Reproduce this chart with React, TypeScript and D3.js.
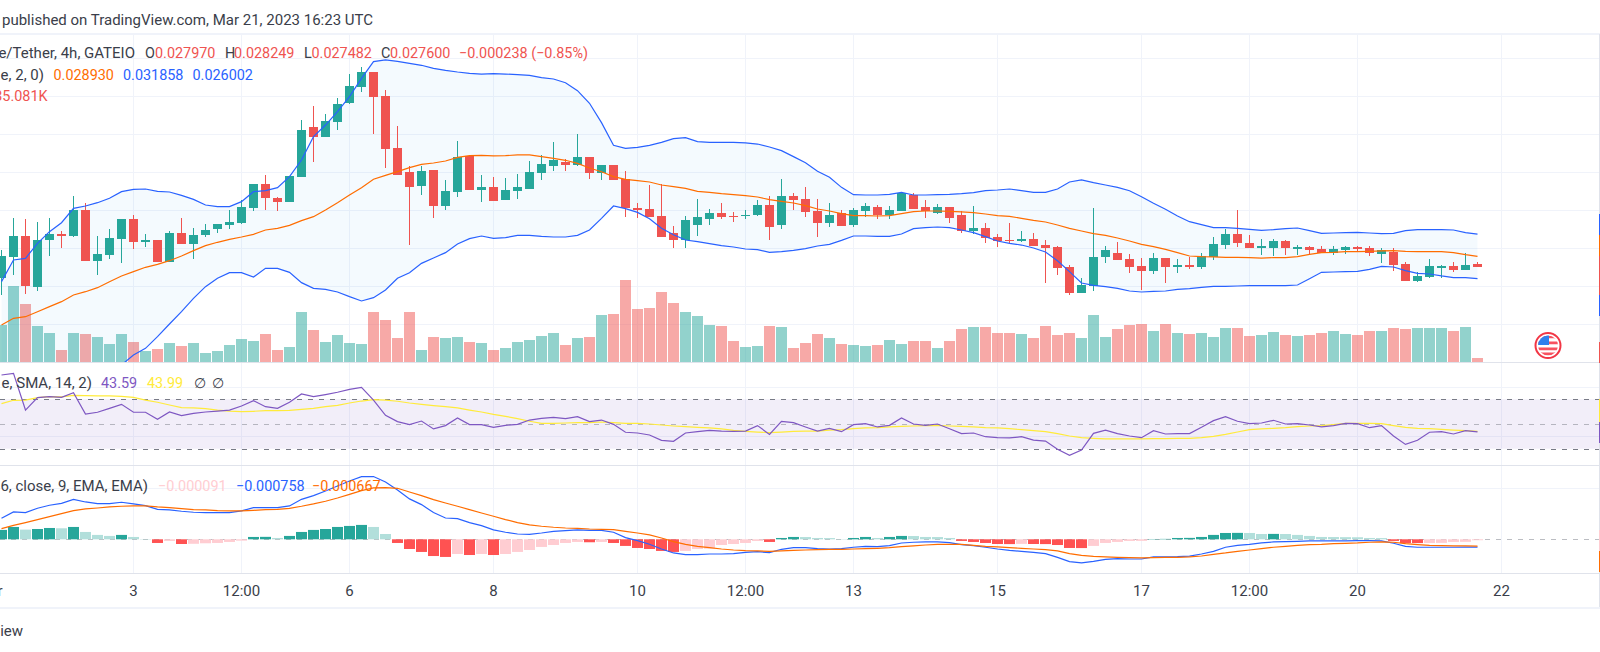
import { useEffect, useRef } from 'react';
import * as d3 from 'd3';

// prices are in units of 0.00001 USDT, one entry per 4h bar
const opens = [
  2609,2886,3162,2491,3109,3188,3162,3504,2833,2912,
  3122,3386,3083,3109,2820,3201,3057,3175,3254,3307,
  3333,3530,3846,3662,3609,3938,4596,4465,4662,4912,
  5122,5320,5004,4320,4004,3820,4030,3557,3741,4215,
  3767,3807,3636,3754,3780,3991,4083,4136,4096,4201,
  3991,4096,3916,3530,3517,3425,3201,3109,3307,3386,
  3465,3425,3425,3438,3570,3307,3688,3649,3491,3333,
  3465,3307,3491,3543,3438,3491,3701,3543,3465,3543,
  3438,3228,3267,3149,3109,3096,3122,3043,3017,2754,
  2412,2504,2886,2938,2859,2767,2701,2872,2754,2780,
  2754,2886,3043,3188,3070,3004,3004,3096,2991,3017,
  2991,2938,2978,3017,3004,2925,2951,2793,2570,2622,
  2741,2767,2715,2793,
];
const closes = [
  2899,3162,2504,3109,3188,3162,3504,2833,2925,3136,
  3386,3083,3109,2820,3201,3057,3175,3241,3320,3346,
  3543,3846,3662,3609,3951,4557,4465,4675,4899,5136,
  5320,4991,4307,3965,3807,4017,3557,3754,4201,3767,
  3807,3622,3767,3807,4004,4109,4162,4096,4201,3991,
  4096,3899,3530,3504,3412,3149,3109,3372,3412,3465,
  3412,3412,3438,3570,3280,3688,3636,3478,3333,3438,
  3293,3504,3557,3438,3504,3728,3517,3491,3543,3399,
  3228,3267,3136,3096,3096,3122,3030,3004,2741,2412,
  2517,2886,2978,2846,2754,2701,2872,2754,2780,2754,
  2899,3057,3188,3070,3004,3030,3096,3004,3017,2978,
  2938,2991,3017,2991,2938,2978,2780,2570,2636,2767,
  2767,2715,2780,2760,
];
const highs = [
  2978,3399,3386,3346,3399,3228,3688,3596,3162,3254,
  3386,3438,3188,3109,3228,3399,3267,3320,3320,3504,
  3636,3846,3965,3675,3951,4688,4872,4767,4978,5294,
  5386,5320,5083,4609,4083,4083,4030,3899,4412,4228,
  3965,3938,3925,3978,4149,4228,4399,4175,4504,4201,
  4096,4096,4017,3596,3833,3846,3293,3425,3649,3517,
  3596,3478,3504,3636,3688,3912,3728,3807,3649,3596,
  3504,3530,3596,3570,3557,3741,3728,3636,3583,3543,
  3491,3557,3333,3188,3333,3228,3201,3109,3030,2780,
  2609,3530,3030,3083,2925,2872,2938,2872,2859,2886,
  2938,3149,3254,3504,3175,3122,3122,3109,3043,3030,
  3030,3030,3030,3030,3030,3004,3004,2820,2688,2859,
  2780,2820,2938,2825,
];
const lows = [
  2386,2649,2399,2438,2899,3004,3149,2833,2649,2859,
  2807,2991,3017,2820,2820,3057,2859,3149,3201,3254,
  3320,3491,3504,3491,3609,3938,4136,4465,4557,4899,
  5057,4504,4057,3965,3043,3701,3399,3504,3675,3767,
  3609,3622,3636,3649,3780,3899,4017,4017,4083,3912,
  3899,3899,3412,3399,3412,3149,3004,3004,3162,3307,
  3386,3346,3386,3425,3109,3254,3504,3412,3149,3280,
  3293,3280,3412,3386,3386,3491,3517,3399,3451,3333,
  3201,3188,3070,3017,3070,3083,3030,2543,2649,2386,
  2412,2438,2807,2846,2675,2451,2662,2543,2675,2728,
  2728,2846,2991,3017,3004,2912,2899,2912,2912,2912,
  2938,2912,2925,2965,2899,2807,2701,2570,2557,2609,
  2609,2688,2715,2748,
];
const bbUpper = [
  2561,2846,2868,3065,3219,3337,3526,3557,3600,3658,
  3745,3776,3780,3750,3741,3697,3644,3570,3548,3548,
  3614,3745,3758,3798,3943,4162,4469,4622,4798,4995,
  5236,5456,5478,5460,5434,5408,5368,5342,5320,5302,
  5293,5298,5293,5285,5276,5245,5228,5179,5074,4908,
  4653,4355,4315,4329,4355,4394,4443,4456,4403,4394,
  4394,4394,4386,4372,4333,4285,4206,4127,4013,3934,
  3802,3706,3701,3701,3710,3736,3701,3701,3706,3710,
  3719,3732,3758,3767,3780,3758,3736,3736,3780,3872,
  3899,3864,3833,3802,3758,3679,3592,3513,3425,3350,
  3311,3272,3272,3263,3250,3236,3245,3258,3267,3232,
  3197,3201,3206,3210,3201,3193,3197,3232,3245,3245,
  3245,3241,3206,3186,
];
const bbLower = [
  1421,1311,1333,1267,1245,1258,1245,1267,1311,1355,
  1465,1596,1684,1837,2004,2166,2342,2495,2605,2679,
  2679,2622,2736,2736,2684,2548,2473,2460,2425,2364,
  2307,2350,2451,2605,2679,2802,2872,2943,3057,3127,
  3162,3131,3140,3171,3171,3158,3149,3149,3171,3241,
  3394,3557,3522,3473,3390,3263,3179,3109,3087,3061,
  3035,3017,2991,2982,2947,2956,2973,2995,3030,3052,
  3105,3162,3162,3158,3158,3188,3258,3272,3280,3272,
  3241,3206,3153,3096,3065,3043,3004,2951,2837,2693,
  2543,2513,2495,2473,2438,2425,2434,2438,2460,2469,
  2486,2500,2500,2504,2508,2508,2508,2508,2517,2600,
  2684,2688,2693,2697,2723,2763,2754,2706,2671,2662,
  2636,2614,2614,2600,
];
const bbBasis = [
  1991,2079,2100,2166,2232,2298,2386,2429,2482,2561,
  2636,2693,2750,2789,2837,2899,2969,3035,3079,3118,
  3149,3184,3241,3263,3302,3364,3416,3504,3600,3701,
  3798,3908,3960,4008,4061,4105,4122,4149,4197,4219,
  4223,4215,4219,4228,4228,4206,4184,4158,4118,4057,
  4008,3943,3908,3890,3872,3833,3811,3789,3750,3736,
  3719,3706,3693,3675,3640,3618,3596,3561,3517,3491,
  3456,3429,3429,3425,3429,3456,3482,3491,3491,3486,
  3478,3469,3451,3429,3421,3394,3368,3346,3307,3263,
  3228,3193,3171,3136,3096,3052,3022,2986,2943,2899,
  2890,2886,2881,2881,2877,2872,2877,2877,2890,2921,
  2943,2947,2956,2956,2960,2965,2969,2960,2956,2956,
  2956,2943,2916,2893,
];
// volume in thousands
const volumes = [
  327,666,509,316,254,105,254,246,219,158,
  246,175,96,114,167,140,167,79,96,149,
  202,184,246,105,132,438,281,175,237,167,
  158,438,368,210,438,105,219,210,219,175,
  167,105,123,175,193,228,254,149,210,219,
  412,421,719,465,474,614,517,438,403,324,
  316,184,132,140,316,307,123,167,246,210,
  158,149,140,149,193,158,184,184,123,184,
  289,307,307,254,254,246,210,316,237,254,
  210,412,219,289,324,333,272,333,254,246,
  254,219,298,298,228,237,263,237,228,237,
  254,272,246,237,272,272,298,289,298,298,
  298,272,307,35,
];
const rsi = [
  89.7,91.0,61.3,71.3,72.1,71.6,75.4,58.1,59.5,62.7,
  65.9,59.5,59.5,53.8,59.7,56.8,58.6,59.7,60.5,61.3,
  64.6,68.9,64.0,62.7,67.6,74.3,72.1,73.8,75.7,78.1,
  79.7,69.4,57.0,51.9,49.5,52.4,46.0,48.7,54.9,49.5,
  49.5,47.3,48.9,49.7,53.2,54.6,55.4,54.3,55.9,51.9,
  53.2,49.7,43.3,42.7,41.1,36.8,36.0,42.7,43.8,44.9,
  44.3,44.1,44.3,48.7,41.6,52.2,51.1,47.6,44.3,46.5,
  43.8,49.5,50.3,47.6,48.9,54.9,50.0,48.9,50.0,46.2,
  42.2,42.7,39.7,38.9,38.7,39.7,37.0,36.2,29.5,24.6,
  28.9,42.4,45.1,42.2,40.3,38.9,44.6,41.9,42.2,42.2,
  47.3,52.7,55.9,52.2,50.3,50.8,53.0,50.0,50.3,49.2,
  47.6,48.7,50.5,50.3,47.0,48.7,40.3,33.5,36.8,43.3,
  43.8,41.9,44.6,43.59,
];
const rsiMa = [
  66.5,69.2,69.4,71.3,72.1,71.9,73.2,73.0,72.7,72.7,
  72.4,71.6,69.4,67.6,65.4,63.2,63.0,62.4,61.3,60.5,
  60.0,60.3,60.8,60.8,61.1,61.9,62.7,64.0,65.1,67.0,
  68.6,69.7,69.4,68.4,67.0,65.9,64.9,64.0,63.0,61.3,
  59.7,57.8,56.2,54.3,52.2,50.5,50.5,50.8,51.1,51.1,
  51.6,51.1,50.5,50.5,50.0,49.2,48.4,47.8,47.3,46.8,
  46.0,44.9,44.1,43.5,43.0,43.5,44.1,44.3,44.3,45.1,
  45.4,46.2,46.8,47.0,47.6,48.1,48.4,48.7,48.9,48.4,
  48.1,47.6,47.0,46.8,46.2,45.4,44.6,43.8,42.2,40.3,
  38.9,38.4,37.9,37.9,37.9,37.9,38.1,38.1,38.4,38.4,
  38.9,40.0,41.6,43.5,45.4,46.0,46.5,47.0,47.8,48.4,
  48.7,49.5,50.5,50.5,50.5,50.3,48.7,47.3,46.5,46.2,
  45.7,45.1,44.6,43.99,
];
// MACD figures are in units of 0.00001 as well
const macdLine = [
  206,268,262,304,334,353,392,366,350,350,
  363,347,330,294,288,275,265,262,262,262,
  278,311,311,311,327,392,428,474,523,572,
  615,615,562,484,396,340,262,209,203,164,
  134,92,69,52,49,62,78,85,92,88,
  88,69,16,-13,-49,-95,-134,-150,-150,-144,
  -144,-141,-128,-121,-131,-98,-82,-82,-92,-95,
  -92,-78,-69,-72,-62,-36,-29,-26,-26,-33,
  -52,-62,-78,-95,-108,-118,-128,-141,-177,-219,
  -232,-216,-196,-190,-193,-193,-173,-173,-170,-164,
  -144,-118,-78,-59,-49,-36,-26,-23,-20,-16,
  -16,-16,-16,-13,-13,-16,-39,-69,-78,-78,
  -78,-78,-76,-76,
];
const signalLine = [
  105,137,164,193,222,252,281,298,307,317,
  324,327,327,317,311,301,291,288,281,278,
  278,284,291,294,304,324,347,373,405,441,
  477,504,507,500,464,428,389,356,324,291,
  258,226,193,164,141,128,118,111,108,101,
  98,95,78,62,43,13,-23,-49,-69,-82,
  -95,-105,-111,-114,-118,-114,-108,-105,-101,-98,
  -98,-95,-92,-88,-82,-72,-65,-56,-49,-49,
  -49,-59,-69,-75,-82,-88,-95,-101,-114,-141,
  -157,-167,-173,-177,-180,-183,-180,-177,-177,-173,
  -164,-147,-134,-118,-105,-92,-78,-69,-59,-52,
  -49,-43,-39,-36,-29,-26,-29,-43,-52,-59,
  -62,-65,-65,-67,
];
const histogram = [
  92,121,95,101,111,108,121,72,43,33,
  43,23,3,-36,-16,-46,-44,-39,-36,-26,
  -13,23,24,13,33,72,92,101,121,131,
  141,121,52,-36,-95,-124,-164,-173,-144,-154,
  -144,-154,-144,-124,-105,-75,-56,-36,-26,-29,
  -26,-36,-65,-85,-95,-114,-124,-114,-95,-92,
  -56,-46,-36,-16,-26,13,23,22,13,12,
  3,13,23,13,23,33,32,23,22,13,
  -16,-26,-36,-46,-47,-45,-46,-47,-56,-85,
  -86,-65,-36,-26,-16,-15,3,4,13,14,
  23,43,62,63,62,52,53,52,43,33,
  23,22,21,20,13,12,-16,-36,-37,-36,
  -35,-26,-25,-9,
];
const tickBars = [-1, 11, 20, 29, 41, 53, 62, 71, 83, 95, 104, 113, 125];
const tickLabels = ['Mar', '3', '12:00', '6', '8', '10', '12:00', '13', '15', '17', '12:00', '20', '22'];
const priceGrid = [2000, 2500, 3000, 3500, 4000, 4500, 5000, 5500];
const rsiGrid = [80, 40];
const macdGrid = [500];

const GREEN = '#26a69a';
const RED = '#ef5350';
const BLUE = '#2962ff';
const ORANGE = '#ff6d00';
const GRID = '#f0f3fa';
const BORDER = '#e0e3eb';
const TEXT = '#3a3e4a';

const W = 1600;
const H = 652;
const FONT = 'Roboto, sans-serif';

const App = () => {
  const chartRef = useRef<SVGSVGElement>(null);

  useEffect(() => {
    if (!chartRef.current) return;
    const svg = d3.select(chartRef.current);
    svg.selectAll('*').remove();

    const bars = d3.range(opens.length);
    const x = d3.scaleLinear().domain([0, 100]).range([1.5, 1201.5]);
    const y = d3.scaleLinear().domain([2500, 3000]).range([286.3, 248.3]);
    const yVol = d3.scaleLinear().domain([0, 1000]).range([362, 248]);
    const yRsi = d3.scaleLinear().domain([30, 70]).range([448.7, 399.3]);
    const yMacd = d3.scaleLinear().domain([0, 500]).range([539.3, 488.3]);

    const defs = svg.append('defs');
    defs.append('clipPath').attr('id', 'main-clip')
      .append('rect').attr('x', 0).attr('y', 34).attr('width', 1599).attr('height', 328);
    defs.append('clipPath').attr('id', 'flag-clip')
      .append('circle').attr('cx', 1548).attr('cy', 345.5).attr('r', 10);

    // vertical grid
    svg.selectAll('line.vgrid')
      .data(tickBars.slice(1))
      .enter()
      .append('line')
      .attr('x1', d => x(d)).attr('x2', d => x(d))
      .attr('y1', 34).attr('y2', 573)
      .attr('stroke', GRID);

    // horizontal grid, one set per pane
    const hGrid = (values: number[], scale: d3.ScaleLinear<number, number>) => {
      svg.append('g').selectAll('line')
        .data(values)
        .enter()
        .append('line')
        .attr('x1', 0).attr('x2', 1599)
        .attr('y1', d => Math.round(scale(d)) + 0.5).attr('y2', d => Math.round(scale(d)) + 0.5)
        .attr('stroke', GRID);
    };
    hGrid(priceGrid, y);
    hGrid(rsiGrid, yRsi);
    hGrid(macdGrid, yMacd);

    const main = svg.append('g').attr('clip-path', 'url(#main-clip)');

    // Volume
    main.selectAll('rect.vol')
      .data(bars)
      .enter()
      .append('rect')
      .attr('x', i => x(i) - 5.5)
      .attr('width', 11)
      .attr('y', i => Math.round(yVol(volumes[i])))
      .attr('height', i => 362 - Math.round(yVol(volumes[i])))
      .attr('fill', i => (closes[i] >= opens[i] ? GREEN : RED))
      .attr('opacity', 0.5);

    // Bollinger bands
    const band = d3.area<number>()
      .x(i => x(i))
      .y0(i => y(bbLower[i]))
      .y1(i => y(bbUpper[i]));
    main.append('path').attr('d', band(bars)).attr('fill', '#2196f3').attr('opacity', 0.05);

    const lineOf = (values: number[], scale: d3.ScaleLinear<number, number>) =>
      d3.line<number>().x(i => x(i)).y(i => scale(values[i]))(bars);

    // Candles
    main.selectAll('rect.wick')
      .data(bars)
      .enter()
      .append('rect')
      .attr('x', i => x(i) - 0.5)
      .attr('width', 1)
      .attr('y', i => Math.round(y(highs[i])))
      .attr('height', i => Math.round(y(lows[i])) - Math.round(y(highs[i])))
      .attr('fill', i => (closes[i] >= opens[i] ? GREEN : RED));
    main.selectAll('rect.body')
      .data(bars)
      .enter()
      .append('rect')
      .attr('x', i => x(i) - 4.5)
      .attr('width', 9)
      .attr('y', i => Math.round(y(Math.max(opens[i], closes[i]))))
      .attr('height', i => Math.max(1, Math.round(y(Math.min(opens[i], closes[i]))) - Math.round(y(Math.max(opens[i], closes[i])))))
      .attr('fill', i => (closes[i] >= opens[i] ? GREEN : RED));

    const drawLine = (values: number[], scale: d3.ScaleLinear<number, number>, color: string, parent: any = svg, w = 1.2) => {
      parent.append('path')
        .attr('d', lineOf(values, scale))
        .attr('fill', 'none')
        .attr('stroke', color)
        .attr('stroke-width', w);
    };
    drawLine(bbBasis, y, ORANGE, main);
    drawLine(bbUpper, y, BLUE, main);
    drawLine(bbLower, y, BLUE, main);

    // RSI pane
    svg.append('rect')
      .attr('x', 0).attr('width', 1599)
      .attr('y', yRsi(70)).attr('height', yRsi(30) - yRsi(70))
      .attr('fill', '#7e57c2').attr('opacity', 0.1);
    [70, 50, 30].forEach(level => {
      svg.append('line')
        .attr('x1', 0).attr('x2', 1599)
        .attr('y1', Math.round(yRsi(level)) + 0.5).attr('y2', Math.round(yRsi(level)) + 0.5)
        .attr('stroke', '#787b86')
        .attr('stroke-opacity', level === 50 ? 0.5 : 1)
        .attr('stroke-dasharray', '5 6');
    });
    drawLine(rsiMa, yRsi, '#ffeb3b');
    drawLine(rsi, yRsi, '#7e57c2');

    // MACD pane
    svg.append('line')
      .attr('x1', 0).attr('x2', 1599)
      .attr('y1', Math.round(yMacd(0)) + 0.5).attr('y2', Math.round(yMacd(0)) + 0.5)
      .attr('stroke', '#787b86').attr('stroke-opacity', 0.5)
      .attr('stroke-dasharray', '5 6');
    const histColor = (i: number) => {
      const rising = i === 0 || histogram[i] >= histogram[i - 1];
      if (histogram[i] >= 0) return rising ? GREEN : '#b2dfdb';
      return rising ? '#ffcdd2' : '#ff5252';
    };
    svg.selectAll('rect.hist')
      .data(bars)
      .enter()
      .append('rect')
      .attr('x', i => x(i) - 5.5)
      .attr('width', 11)
      .attr('y', i => Math.min(yMacd(0), yMacd(histogram[i])))
      .attr('height', i => Math.abs(yMacd(histogram[i]) - yMacd(0)))
      .attr('fill', i => histColor(i));
    drawLine(macdLine, yMacd, BLUE);
    drawLine(signalLine, yMacd, ORANGE);

    // pane borders
    [[362.5, BORDER], [465.5, BORDER], [573.5, BORDER]].forEach(([py, color]) => {
      svg.append('line')
        .attr('x1', 0).attr('x2', 1599)
        .attr('y1', py as number).attr('y2', py as number)
        .attr('stroke', color as string).attr('stroke-width', 1.2);
    });
    [33, 607].forEach(py => {
      svg.append('rect').attr('x', 0).attr('width', W).attr('y', py).attr('height', 2).attr('fill', GRID);
    });
    svg.append('rect').attr('x', 1599).attr('width', 1).attr('y', 34).attr('height', 573).attr('fill', BORDER);

    // price labels peeking in at the right edge
    const edgeMarks: [number, number, string][] = [
      [214, 235, BLUE], [235, 256, ORANGE], [256, 295, RED], [295, 316, BLUE],
      [342, 363, RED], [399, 422, '#ffeb3b'], [422, 443, '#7e57c2'],
      [530, 551, '#ffcdd2'], [551, 572, ORANGE],
    ];
    edgeMarks.forEach(([a, b, color]) => {
      svg.append('rect').attr('x', 1599).attr('width', 1).attr('y', a).attr('height', b - a).attr('fill', color);
    });

    // Flag marker
    svg.append('circle').attr('cx', 1548).attr('cy', 345.5).attr('r', 12.5)
      .attr('fill', 'white').attr('stroke', '#f23645').attr('stroke-width', 2);
    const flag = svg.append('g').attr('clip-path', 'url(#flag-clip)');
    [[335.5, '#f7525f'], [338.5, 'white'], [341.5, '#f7525f'], [344.5, 'white'], [347.5, '#f7525f'], [350.5, 'white'], [352.5, '#f7525f']].forEach(([py, color]) => {
      flag.append('rect').attr('x', 1538).attr('y', py as number).attr('width', 20).attr('height', 3).attr('fill', color as string);
    });
    flag.append('rect').attr('x', 1538).attr('y', 335).attr('width', 11).attr('height', 10).attr('fill', '#2f80ed');

    // Tick labels
    svg.selectAll('text.tick')
      .data(tickLabels)
      .enter()
      .append('text')
      .attr('x', (_, i) => x(tickBars[i]))
      .attr('y', 590.5)
      .attr('text-anchor', 'middle')
      .attr('dominant-baseline', 'central')
      .style('font-family', FONT)
      .style('font-size', '15px')
      .style('fill', TEXT)
      .text(d => d);

    // Legends
    const label = (px: number, py: number, text: string, color: string, anchor = 'start', size = 14.4) => {
      svg.append('text')
        .attr('x', px).attr('y', py)
        .attr('text-anchor', anchor)
        .attr('dominant-baseline', 'central')
        .style('font-family', FONT)
        .style('font-size', `${size}px`)
        .style('fill', color)
        .text(text);
    };
    label(2, 20, 'published on TradingView.com, Mar 21, 2023 16:23 UTC', TEXT, 'start', 15);
    label(135, 53, 'e/Tether, 4h, GATEIO', TEXT, 'end', 15);
    label(145, 53, 'O', TEXT);
    label(155, 53, '0.027970', RED);
    label(225, 53, 'H', TEXT);
    label(234, 53, '0.028249', RED);
    label(304, 53, 'L', TEXT);
    label(311.5, 53, '0.027482', RED);
    label(381, 53, 'C', TEXT);
    label(390, 53, '0.027600', RED);
    label(459, 53, '\u22120.000238 (\u22120.85%)', RED);
    label(44, 75, 'e, 2, 0)', TEXT, 'end', 15);
    label(53.5, 75, '0.028930', ORANGE);
    label(123, 75, '0.031858', BLUE);
    label(192.5, 75, '0.026002', BLUE);
    label(47.5, 96, '35.081K', RED, 'end');
    label(92, 383, 'e, SMA, 14, 2)', TEXT, 'end', 15);
    label(101, 383, '43.59', '#7e57c2');
    label(147, 383, '43.99', '#ffeb3b');
    label(194, 383, '\u2205', TEXT);
    label(212, 383, '\u2205', TEXT);
    label(148, 486, '6, close, 9, EMA, EMA)', TEXT, 'end', 15);
    label(158, 486, '\u22120.000091', '#ffcdd2');
    label(236, 486, '\u22120.000758', BLUE);
    label(312, 486, '\u22120.000667', ORANGE);
    label(23, 631, 'iew', TEXT, 'end', 15);
  }, []);

  return (
    <div style={{ width: W, height: H }}>
      <style>{'body{margin:0;background:#fff}'}</style>
      <svg ref={chartRef} width={W} height={H} style={{ display: 'block' }} />
    </div>
  );
};

export default App;
